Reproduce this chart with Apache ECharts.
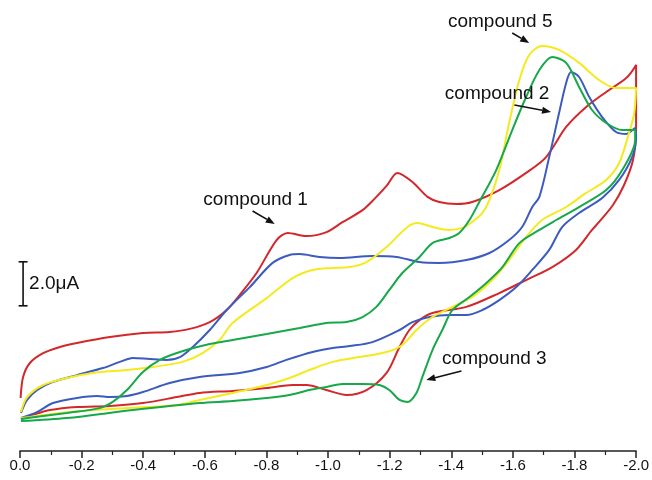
<!DOCTYPE html>
<html>
<head>
<meta charset="utf-8">
<script src="https://cdn.jsdelivr.net/npm/echarts@6/dist/echarts.min.js"></script>
<style>
  html, body { margin: 0; padding: 0; background: #fff; }
  #chart { width: 652px; height: 480px; }
</style>
</head>
<body>
<div id="chart"></div>
<script>
// Cyclic voltammograms: potential (V) vs current (μA).
// Each compound has a forward scan (0 → -2.0 V) and a reverse scan (-2.0 → 0 V).
const xTicks = ['0.0', '-0.2', '-0.4', '-0.6', '-0.8', '-1.0', '-1.2', '-1.4', '-1.6', '-1.8', '-2.0'];

const compound1Forward = [
  [-0.002, 2.41], [-0.01, 3.36], [-0.032, 4.0], [-0.075, 4.45], [-0.13, 4.73], [-0.185, 4.91],
  [-0.292, 5.18], [-0.399, 5.36], [-0.486, 5.41], [-0.551, 5.55], [-0.616, 5.86], [-0.671, 6.41],
  [-0.713, 7.09], [-0.768, 8.09], [-0.833, 9.59], [-0.869, 9.91], [-0.93, 9.77], [-0.995, 9.95],
  [-1.047, 10.4], [-1.112, 10.95], [-1.15, 11.45], [-1.19, 12.05], [-1.225, 12.64], [-1.274, 12.23],
  [-1.323, 11.55], [-1.361, 11.32], [-1.417, 11.23], [-1.468, 11.32], [-1.556, 11.86], [-1.643, 12.64],
  [-1.708, 13.36], [-1.773, 14.73], [-1.838, 15.64], [-1.903, 16.32], [-1.968, 16.95], [-2.0, 17.55]
];
const compound1Reverse = [
  [-2.0, 14.59], [-1.99, 13.23], [-1.961, 12.09], [-1.925, 11.18], [-1.88, 10.41], [-1.857, 10.05],
  [-1.805, 9.14], [-1.728, 8.36], [-1.643, 7.77], [-1.556, 7.18], [-1.449, 6.55], [-1.339, 6.27],
  [-1.297, 5.95], [-1.264, 5.5], [-1.232, 4.73], [-1.19, 3.55], [-1.125, 2.77], [-1.06, 2.55],
  [-0.995, 2.77], [-0.93, 3.0], [-0.885, 3.0], [-0.801, 2.86], [-0.69, 2.73], [-0.583, 2.64],
  [-0.509, 2.45], [-0.399, 2.18], [-0.292, 2.05], [-0.185, 2.0], [-0.097, 1.86], [-0.042, 1.64],
  [-0.003, 1.45]
];

const compound2Forward = [
  [-0.003, 1.73], [-0.023, 2.32], [-0.055, 2.77], [-0.107, 3.14], [-0.185, 3.45], [-0.269, 3.77],
  [-0.324, 4.05], [-0.366, 4.23], [-0.421, 4.18], [-0.476, 4.14], [-0.519, 4.27], [-0.561, 4.73],
  [-0.616, 5.5], [-0.671, 6.41], [-0.746, 7.45], [-0.82, 8.55], [-0.875, 8.91], [-0.908, 8.95],
  [-0.972, 8.82], [-1.037, 8.77], [-1.144, 8.86], [-1.222, 8.82], [-1.297, 8.59], [-1.361, 8.55],
  [-1.449, 8.68], [-1.524, 9.0], [-1.588, 9.59], [-1.63, 10.18], [-1.663, 11.09], [-1.686, 11.55],
  [-1.718, 13.36], [-1.75, 15.36], [-1.773, 16.73], [-1.789, 17.23], [-1.815, 17.0], [-1.848, 16.09],
  [-1.89, 15.18], [-1.935, 14.5], [-1.968, 14.41], [-1.997, 14.68]
];
const compound2Reverse = [
  [-2.0, 14.27], [-1.987, 13.36], [-1.945, 12.32], [-1.89, 11.5], [-1.815, 10.82], [-1.76, 10.18],
  [-1.718, 9.14], [-1.663, 8.23], [-1.611, 7.45], [-1.556, 6.86], [-1.501, 6.41], [-1.449, 6.18],
  [-1.394, 6.18], [-1.329, 6.09], [-1.274, 5.86], [-1.232, 5.5], [-1.144, 4.95], [-1.07, 4.77],
  [-1.015, 4.68], [-0.95, 4.5], [-0.865, 4.14], [-0.801, 3.82], [-0.713, 3.55], [-0.583, 3.36],
  [-0.486, 3.09], [-0.399, 2.68], [-0.347, 2.5], [-0.292, 2.45], [-0.25, 2.5], [-0.185, 2.41],
  [-0.107, 2.18], [-0.055, 1.77], [-0.003, 1.5]
];

const compound3Forward = [
  [-0.003, 1.45], [-0.075, 1.59], [-0.152, 1.73], [-0.259, 1.95], [-0.301, 2.23], [-0.347, 2.77],
  [-0.399, 3.59], [-0.454, 4.14], [-0.519, 4.5], [-0.616, 4.86], [-0.69, 5.05], [-0.801, 5.32],
  [-0.908, 5.59], [-0.995, 5.82], [-1.06, 5.86], [-1.112, 6.09], [-1.157, 6.55], [-1.199, 7.32],
  [-1.241, 8.09], [-1.297, 8.82], [-1.339, 9.45], [-1.394, 9.68], [-1.426, 9.91], [-1.459, 10.5],
  [-1.491, 11.32], [-1.546, 12.77], [-1.598, 14.59], [-1.643, 16.09], [-1.686, 17.32], [-1.728, 17.91],
  [-1.773, 17.64], [-1.815, 16.55], [-1.857, 15.5], [-1.903, 14.91], [-1.955, 14.59], [-1.997, 14.59]
];
const compound3Reverse = [
  [-1.997, 14.14], [-1.955, 12.77], [-1.903, 11.86], [-1.815, 11.09], [-1.741, 10.5], [-1.686, 10.05],
  [-1.621, 9.45], [-1.566, 8.36], [-1.514, 7.64], [-1.459, 7.0], [-1.404, 6.41], [-1.371, 5.5],
  [-1.339, 4.59], [-1.306, 3.36], [-1.287, 2.64], [-1.258, 2.23], [-1.232, 2.32], [-1.199, 2.77],
  [-1.167, 3.0], [-1.112, 3.05], [-1.047, 3.05], [-0.995, 2.91], [-0.94, 2.77], [-0.875, 2.55],
  [-0.801, 2.41], [-0.69, 2.27], [-0.583, 2.18], [-0.366, 1.86], [-0.152, 1.5], [-0.003, 1.36]
];

const compound5Forward = [
  [-0.003, 1.77], [-0.023, 2.45], [-0.075, 3.0], [-0.152, 3.32], [-0.237, 3.55], [-0.347, 3.68],
  [-0.431, 3.82], [-0.528, 4.05], [-0.593, 4.45], [-0.648, 5.05], [-0.69, 5.82], [-0.801, 6.95],
  [-0.885, 7.86], [-0.95, 8.23], [-1.015, 8.32], [-1.07, 8.36], [-1.125, 8.59], [-1.19, 9.27],
  [-1.254, 10.14], [-1.29, 10.36], [-1.339, 10.18], [-1.394, 10.05], [-1.436, 10.14], [-1.468, 10.41],
  [-1.501, 10.82], [-1.524, 11.41], [-1.556, 12.77], [-1.588, 14.91], [-1.621, 16.86], [-1.653, 18.0],
  [-1.695, 18.41], [-1.75, 18.23], [-1.815, 17.64], [-1.88, 16.86], [-1.935, 16.5], [-2.0, 16.5]
];
const compound5Reverse = [
  [-1.994, 15.36], [-1.977, 14.45], [-1.945, 13.09], [-1.903, 12.32], [-1.838, 11.73], [-1.773, 11.09],
  [-1.695, 10.5], [-1.643, 9.73], [-1.588, 8.68], [-1.533, 7.77], [-1.468, 7.0], [-1.404, 6.55],
  [-1.339, 6.09], [-1.287, 5.5], [-1.241, 4.82], [-1.19, 4.5], [-1.102, 4.27], [-1.015, 4.05],
  [-0.94, 3.68], [-0.875, 3.32], [-0.801, 3.0], [-0.69, 2.64], [-0.583, 2.32], [-0.509, 2.09],
  [-0.347, 1.95], [-0.237, 1.86], [-0.13, 1.73], [-0.032, 1.55], [-0.003, 1.5]
];

// Current scale bar: potential position, bottom and top current (μA), label
const scaleBar = { x: -0.01, from: 6.6, to: 8.6, label: '2.0μA' };

// Curve labels: text position and arrow (tail → head), in data coordinates
const callouts = [
  { text: 'compound 1', at: [-0.765, 11.41], tail: [-0.755, 10.91], head: [-0.827, 10.32] },
  { text: 'compound 5', at: [-1.559, 19.5], tail: [-1.598, 19.0], head: [-1.653, 18.55] },
  { text: 'compound 2', at: [-1.549, 16.23], tail: [-1.605, 15.73], head: [-1.724, 15.41] },
  { text: 'compound 3', at: [-1.54, 4.18], tail: [-1.433, 3.64], head: [-1.319, 3.23] }
];

const FONT = '"Liberation Sans", Arial, sans-serif';
const chart = echarts.init(document.getElementById('chart'), null, { renderer: 'canvas' });

// One closed-loop line per compound: forward scan followed by the reverse scan.
function voltammogram(name, forward, reverse, color) {
  return {
    name, type: 'line', data: forward.concat(reverse), smooth: 0.3,
    showSymbol: false, symbol: 'none',
    lineStyle: { color, width: 2 }, silent: true, z: 3
  };
}

function arrowShapes(api, c) {
  const t = api.coord(c.tail), h = api.coord(c.head);
  const dx = h[0] - t[0], dy = h[1] - t[1];
  const len = Math.hypot(dx, dy), ux = dx / len, uy = dy / len;
  const al = 9, aw = 3.5;
  const bx = h[0] - ux * al, by = h[1] - uy * al;
  return [
    { type: 'line', shape: { x1: t[0], y1: t[1], x2: bx, y2: by }, style: { stroke: '#111', lineWidth: 1.6 } },
    { type: 'polygon', shape: { points: [[h[0], h[1]], [bx - uy * aw, by + ux * aw], [bx + uy * aw, by - ux * aw]] }, style: { fill: '#111' } }
  ];
}

chart.setOption({
  animation: false,
  backgroundColor: '#fff',
  grid: { left: 20, right: 15, top: 11, bottom: 29 },
  xAxis: {
    type: 'value', min: -2, max: 0, interval: 0.2, inverse: true,
    axisLine: { lineStyle: { color: '#222', width: 1.5 } },
    axisTick: { show: true, length: 7, lineStyle: { color: '#222', width: 1.5 } },
    minorTick: { show: true, splitNumber: 2, length: 4, lineStyle: { color: '#222', width: 1.2 } },
    splitLine: { show: false },
    axisLabel: {
      color: '#111', fontSize: 15, fontFamily: FONT, margin: 7,
      formatter: v => xTicks[Math.round(-v / 0.2)]
    }
  },
  yAxis: { type: 'value', min: 0, max: 20, show: false },
  series: [
    voltammogram('compound 1', compound1Forward, compound1Reverse, '#d2282c'),
    voltammogram('compound 2', compound2Forward, compound2Reverse, '#3b5bbf'),
    voltammogram('compound 5', compound5Forward, compound5Reverse, '#f4ea1d'),
    voltammogram('compound 3', compound3Forward, compound3Reverse, '#17a84a'),
    {
      type: 'custom', silent: true, z: 5,
      data: [[scaleBar.x, scaleBar.from, scaleBar.to]],
      renderItem: (params, api) => {
        const b = api.coord([api.value(0), api.value(1)]);
        const t = api.coord([api.value(0), api.value(2)]);
        const cap = 4.5;
        return {
          type: 'group',
          children: [
            { type: 'line', shape: { x1: b[0], y1: b[1], x2: t[0], y2: t[1] }, style: { stroke: '#111', lineWidth: 1.6 } },
            { type: 'line', shape: { x1: t[0] - cap, y1: t[1], x2: t[0] + cap, y2: t[1] }, style: { stroke: '#111', lineWidth: 1.6 } },
            { type: 'line', shape: { x1: b[0] - cap, y1: b[1], x2: b[0] + cap, y2: b[1] }, style: { stroke: '#111', lineWidth: 1.6 } },
            { type: 'text', x: t[0] + 6, y: (t[1] + b[1]) / 2, style: { text: scaleBar.label, fill: '#111', font: '19px ' + FONT, textAlign: 'left', textVerticalAlign: 'middle' } }
          ]
        };
      }
    },
    {
      type: 'custom', silent: true, z: 6,
      data: callouts.map((c, i) => [c.at[0], c.at[1], i]),
      renderItem: (params, api) => {
        const c = callouts[api.value(2)];
        const p = api.coord(c.at);
        return {
          type: 'group',
          children: [
            { type: 'text', x: p[0], y: p[1], style: { text: c.text, fill: '#111', font: '19px ' + FONT, textAlign: 'center', textVerticalAlign: 'middle' } }
          ].concat(arrowShapes(api, c))
        };
      }
    }
  ]
});
</script>
</body>
</html>
